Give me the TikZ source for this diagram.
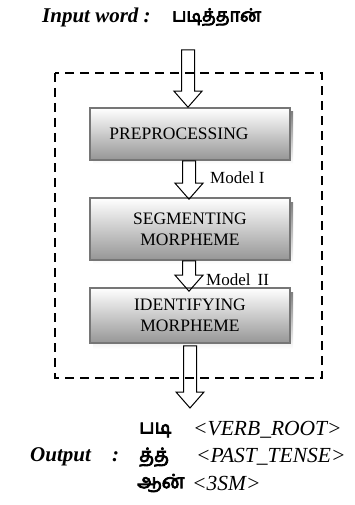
\documentclass[tikz,border=0pt]{standalone}
\usepackage{fontspec}
\setmainfont{Liberation Serif}
\newfontfamily\tamil[Script=Tamil, FakeBold=4]{Hind Madurai}
\usetikzlibrary{positioning, calc}
\definecolor{boxline}{RGB}{118, 118, 118}
\definecolor{boxlow}{RGB}{150, 150, 150}
\definecolor{shade}{RGB}{200, 200, 200}

% hollow block arrow from a point straight down to another
\newcommand{\blockarrow}[2]{%
  \draw[line width=1pt] let \p1=(#1), \p2=(#2) in
    (\x1-6.5,\y1) -- (\x1-6.5,\y2+16) -- (\x1-14,\y2+16) -- (\x1,\y2)
    -- (\x1+14,\y2+16) -- (\x1+6.5,\y2+16) -- (\x1+6.5,\y1) -- cycle;}

\begin{document}
\begin{tikzpicture}[x=1pt, y=-1pt,
  stagebox/.style={rectangle, draw=boxline, line width=1.6pt,
    top color=white, bottom color=boxlow,
    font=\fontsize{17.5pt}{21pt}\selectfont,
    minimum width=200pt, minimum height=54pt,
    align=center, inner sep=2pt},
  mlbl/.style={font=\fontsize{17pt}{19pt}\selectfont, anchor=west, inner sep=0pt},
  head/.style={font=\fontsize{21pt}{24pt}\selectfont\bfseries\itshape,
    anchor=west, inner sep=0pt},
  tam/.style={font=\fontsize{19.5pt}{22pt}\selectfont\tamil,
    anchor=west, inner sep=0pt},
  tag/.style={font=\fontsize{21.5pt}{24pt}\selectfont\itshape,
    anchor=west, inner sep=0pt}
]
\useasboundingbox (0,0) rectangle (354,505);

% input
\node[head] at (42, 17) (inlabel) {Input word :};
\node[tam, font=\fontsize{18pt}{21pt}\selectfont\tamil] at (172, 17) (inword) {படித்தான்};

% shadows
\fill[shade] (93,112) rectangle (293,164);
\fill[shade] (93,202) rectangle (293,264);
\fill[shade] (93,292) rectangle (293,349);

% stages
\node[stagebox, minimum height=52pt] at (190, 134) (pre)
  {PREPROCESSING\hspace*{22pt}};
\node[stagebox, minimum height=62pt] at (190, 229) (seg)
  {SEGMENTING\\MORPHEME};
\node[stagebox, minimum height=55pt] at (190, 315.5) (ident)
  {IDENTIFYING\\MORPHEME};

\coordinate (intop)  at (188, 50);
\coordinate (outtip) at (190, 408);

\blockarrow{intop}{$(pre.north)+(-2,0)$}
\blockarrow{$(pre.south)+(-1,0)$}{$(seg.north)+(-1,2)$}
\blockarrow{$(seg.south)+(-1,0)$}{$(ident.north)+(-1,4)$}
\blockarrow{$(ident.south)+(0,2)$}{outtip}

\node[mlbl] at (210, 178) (m1) {Model I};
\node[mlbl] at (206, 280) (m2) {Model\, II};

% system boundary
\draw[line width=1.6pt, dash pattern=on 9pt off 6pt] (55,73) rectangle (322,378);

% output
\node[tam] at (139, 430) (w1) {படி};
\node[tag] at (193, 430) (t1) {<VERB\_ROOT>};
\node[head] at (30, 457) (outlabel) {Output};
\node[head] at (112, 457) (colon) {:};
\node[tam] at (139, 457) (w2) {த்த்};
\node[tag] at (196, 457) (t2) {<PAST\_TENSE>};
\node[tam] at (137, 483) (w3) {ஆன்};
\node[tag] at (192, 483) (t3) {<3SM>};
\end{tikzpicture}
\end{document}
